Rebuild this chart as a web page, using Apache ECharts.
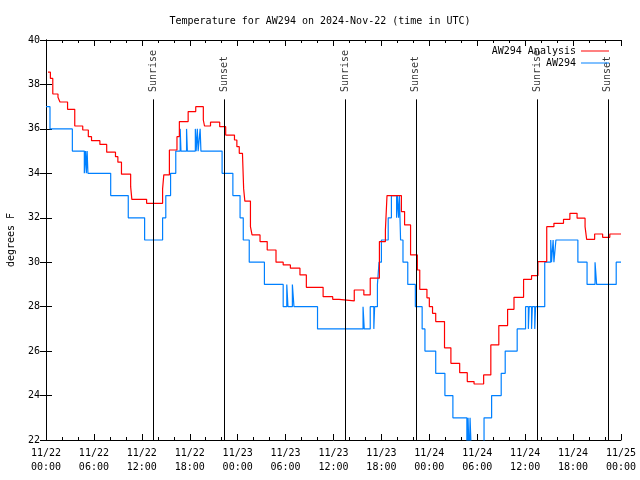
<!DOCTYPE html>
<html>
<head>
<meta charset="utf-8">
<script src="https://cdn.jsdelivr.net/npm/echarts@6/dist/echarts.min.js"></script>
<style>html,body{margin:0;padding:0;background:#fff}#c{width:640px;height:480px}</style>
</head>
<body>
<div id="c"></div>
<script>
// ---- data (hours since 2024-11-22 00:00 UTC, deg F) ----
const xTickLabels = ['11/22\n00:00','11/22\n06:00','11/22\n12:00','11/22\n18:00','11/23\n00:00','11/23\n06:00','11/23\n12:00','11/23\n18:00','11/24\n00:00','11/24\n06:00','11/24\n12:00','11/24\n18:00','11/25\n00:00'];
const sunTimes = [13.42, 22.3, 37.44, 46.3, 61.47, 70.35];
const sunLabels = ['Sunrise','Sunset','Sunrise','Sunset','Sunrise','Sunset'];
const analysisData = [[0.25,38.55],[0.55,38.27],[0.85,37.57],[1.5,37.42],[1.75,37.21],[2.7,36.88],[3.6,36.13],[4.6,35.95],[5.3,35.65],[5.7,35.47],[6.75,35.3],[7.6,34.95],[8.7,34.75],[9.0,34.5],[9.45,33.96],[10.6,33.4],[10.75,32.83],[12.6,32.65],[14.6,33.3],[14.75,33.93],[15.45,35.05],[16.4,35.65],[16.7,36.33],[17.8,36.78],[18.75,37.0],[19.7,36.4],[19.85,36.13],[20.6,36.3],[21.75,36.1],[22.5,35.72],[23.6,35.5],[23.9,35.2],[24.2,34.9],[24.6,34.86],[24.75,33.3],[24.9,32.75],[25.6,31.6],[25.8,31.23],[26.8,30.93],[27.7,30.55],[28.8,30.0],[29.7,29.88],[30.6,29.73],[31.8,29.43],[32.6,28.87],[34.7,28.45],[35.9,28.33],[36.7,28.26],[38.6,28.75],[39.8,28.53],[40.6,29.28],[41.75,30.93],[42.5,31.45],[42.7,33.0],[44.5,32.28],[44.9,31.68],[45.65,30.33],[46.5,29.65],[46.8,28.78],[47.7,28.4],[48.0,28.0],[48.4,27.7],[48.8,27.33],[49.9,26.15],[50.7,25.45],[51.8,25.03],[52.75,24.63],[53.6,24.52],[54.8,24.93],[55.7,26.28],[56.7,27.15],[57.8,27.88],[58.6,28.42],[59.8,29.23],[60.8,29.4],[61.6,30.03],[62.7,31.6],[63.6,31.75],[64.8,31.93],[65.6,32.2],[66.5,31.98],[67.5,31.6],[67.7,31.03],[68.7,31.27],[69.7,31.12],[70.6,31.27],[72,31.27]];
const obsData = [[0,37],[0.5,36],[3.3,35],[4.8,34],[4.95,35],[5.05,34],[5.15,35],[5.25,34],[8.1,33],[10.3,32],[12.35,31],[14.6,32],[15.0,33],[15.6,34],[16.25,35],[16.8,36],[16.9,35],[17.6,36],[17.7,35],[18.7,36],[18.8,35],[18.95,36],[19.05,35],[19.3,36],[19.4,35],[22.05,34],[23.4,33],[24.3,32],[24.7,31],[25.45,30],[27.35,29],[29.7,28],[30.15,29],[30.3,28],[30.85,29],[31.05,28],[34.0,27],[39.7,28],[39.85,27],[40.6,28],[41.05,27],[41.15,28],[41.5,29],[41.7,30],[42.0,31],[42.85,32],[43.25,33],[43.9,32],[44.0,33],[44.15,32],[44.25,33],[44.4,31],[44.7,30],[45.3,29],[46.25,28],[47.1,27],[47.45,26],[48.8,25],[49.95,24],[50.95,23],[52.7,21],[52.85,23],[53.0,21],[53.1,23],[53.3,21],[54.85,23],[55.8,24],[57.0,25],[57.5,26],[59.0,27],[60.05,28],[60.4,27],[60.5,28],[60.8,27],[60.9,28],[61.2,27],[61.3,28],[62.45,30],[63.2,31],[63.3,30],[63.5,31],[63.6,30],[63.85,31],[66.6,30],[67.75,29],[68.75,30],[68.95,29],[71.4,30],[72,30]];
const sunLineTop = 37.33;
const sunLabelBase = 37.66;

const FONT = 'DejaVu Sans Mono';
const chart = echarts.init(document.getElementById('c'), null, {renderer: 'canvas'});
const axisCommon = {
  axisLine: {show: true, lineStyle: {color: '#000', width: 1}},
  splitLine: {show: false}
};
chart.setOption({
  animation: false,
  backgroundColor: '#fff',
  title: {
    text: 'Temperature for AW294 on 2024-Nov-22 (time in UTC)',
    left: 'center', top: 11,
    textStyle: {fontFamily: FONT, fontSize: 10, fontWeight: 'normal', color: '#000'}
  },
  legend: [
    {data: ['AW294 Analysis'], right: 26, top: 41, align: 'right', icon: 'rect', itemWidth: 28, itemHeight: 1,
     textStyle: {fontFamily: FONT, fontSize: 10, color: '#000'}},
    {data: ['AW294'], right: 26, top: 53, align: 'right', icon: 'rect', itemWidth: 28, itemHeight: 1,
     textStyle: {fontFamily: FONT, fontSize: 10, color: '#000'}}
  ],
  grid: {left: 46, right: 19, top: 40, bottom: 40, outerBoundsMode: 'none', containLabel: false},
  xAxis: [
    Object.assign({
      type: 'value', min: 0, max: 72, interval: 6, position: 'bottom',
      axisTick: {show: true, inside: true, length: 6, lineStyle: {color: '#000'}},
      minorTick: {show: true, splitNumber: 3, length: 3, lineStyle: {color: '#000'}},
      axisLabel: {fontFamily: FONT, fontSize: 10, color: '#000', lineHeight: 14, margin: 6,
        formatter: v => xTickLabels[Math.round(v / 6)]}
    }, axisCommon),
    Object.assign({
      type: 'value', min: 0, max: 72, interval: 6, position: 'top',
      axisTick: {show: true, inside: true, length: 6, lineStyle: {color: '#000'}},
      minorTick: {show: true, splitNumber: 3, length: 3, lineStyle: {color: '#000'}},
      axisLabel: {show: false}
    }, axisCommon)
  ],
  yAxis: [
    Object.assign({
      type: 'value', min: 22, max: 40, interval: 2, position: 'left',
      name: 'degrees F', nameLocation: 'middle', nameRotate: 90, nameGap: 30,
      nameTextStyle: {fontFamily: FONT, fontSize: 10, color: '#000'},
      axisTick: {show: true, inside: true, length: 6, lineStyle: {color: '#000'}},
      axisLabel: {fontFamily: FONT, fontSize: 10, color: '#000', margin: 6}
    }, axisCommon),
    Object.assign({
      type: 'value', min: 22, max: 40, interval: 2, position: 'right',
      axisTick: {show: true, inside: true, length: 6, lineStyle: {color: '#000'}},
      axisLabel: {show: false}
    }, axisCommon)
  ],
  series: [
    {
      name: 'AW294', type: 'line', step: 'end', data: obsData, symbol: 'none',
      color: '#0080ff', lineStyle: {width: 1.2, color: '#0080ff'}, z: 3,
      markLine: {
        silent: true, symbol: 'none', label: {show: false},
        lineStyle: {color: '#000', width: 1, type: 'solid'},
        data: sunTimes.map(t => [{coord: [t, 22]}, {coord: [t, sunLineTop]}])
      }
    },
    {
      name: 'AW294 Analysis', type: 'line', step: 'end', data: analysisData, symbol: 'none',
      color: '#ff0000', lineStyle: {width: 1.2, color: '#ff0000'}, z: 4
    },
    {
      name: 'sun', type: 'scatter', symbolSize: 0, silent: true,
      data: sunTimes.map(t => [t, sunLabelBase]),
      label: {show: true, position: 'inside', rotate: 90, align: 'left', verticalAlign: 'middle',
        fontFamily: FONT, fontSize: 10, color: '#000',
        formatter: p => sunLabels[p.dataIndex]}
    }
  ]
});
</script>
</body>
</html>
